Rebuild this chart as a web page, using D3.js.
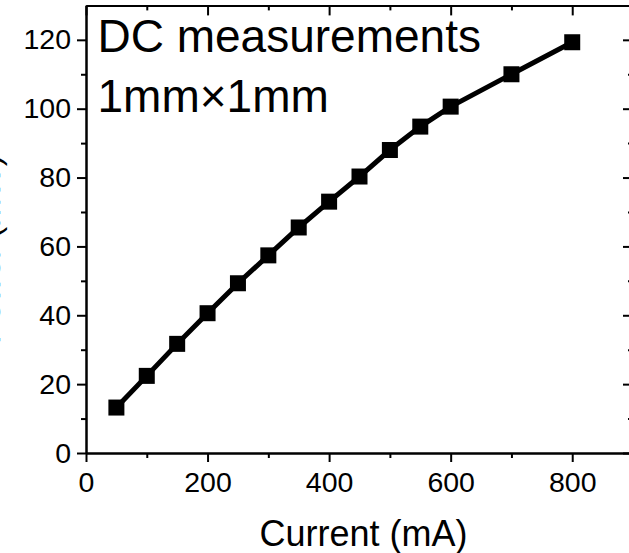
<!DOCTYPE html>
<html>
<head>
<meta charset="utf-8">
<script src="https://cdn.jsdelivr.net/npm/d3@7"></script>
<style>
  html, body { margin: 0; padding: 0; background: #fff; }
  svg { display: block; }
  text { font-family: "Liberation Sans", Arial, sans-serif; fill: #000; }
</style>
</head>
<body>
<svg id="chart" width="629" height="553"></svg>
<script>
// Data
const currentMA = [50, 100, 150, 200, 250, 300, 350, 400, 450, 500, 550, 600, 700, 800];
const powerMW   = [13.2, 22.4, 31.7, 40.6, 49.3, 57.4, 65.5, 73.0, 80.3, 88.0, 94.8, 100.6, 110.0, 119.3];
const xMajorTicks = [0, 200, 400, 600, 800];
const xMinorTicks = [100, 300, 500, 700];
const yMajorTicks = [0, 20, 40, 60, 80, 100, 120];
const yMinorTicks = [10, 30, 50, 70, 90, 110];
const xLabel = "Current (mA)";
const yLabel = "Power (mW)";
const noteLines = ["DC measurements", "1mm\u00d71mm"];

const FONT = '"Liberation Sans", Arial, sans-serif';
const svg = d3.select("#chart");
const mLeft = 86, mRight = 633, mTop = 5.4, mBottom = 453;

const x = d3.scaleLinear().domain([0, 900]).range([mLeft, mRight]);
const y = d3.scaleLinear().domain([0, 130]).range([mBottom, mTop]);

function styleAxis(g) {
  g.selectAll("path.domain").attr("stroke", "#000").attr("stroke-width", 2);
  g.selectAll(".tick line").attr("stroke", "#000").attr("stroke-width", 2);
  g.selectAll("text").attr("font-size", 28.5).attr("font-family", FONT).attr("fill", "#000");
}

// Bottom axis
svg.append("g").attr("transform", `translate(0,${mBottom})`)
  .call(d3.axisBottom(x).tickValues(xMajorTicks).tickSize(9).tickSizeOuter(0).tickPadding(10).tickFormat(d3.format("d")))
  .call(styleAxis);
svg.append("g").attr("transform", `translate(0,${mBottom})`)
  .call(d3.axisBottom(x).tickValues(xMinorTicks).tickSize(5).tickSizeOuter(0).tickFormat(""))
  .call(styleAxis);

// Top axis (inward ticks)
svg.append("g").attr("transform", `translate(0,${mTop})`)
  .call(d3.axisTop(x).tickValues(xMajorTicks).tickSize(-10).tickSizeOuter(0).tickFormat(""))
  .call(styleAxis);
svg.append("g").attr("transform", `translate(0,${mTop})`)
  .call(d3.axisTop(x).tickValues(xMinorTicks).tickSize(-5).tickSizeOuter(0).tickFormat(""))
  .call(styleAxis);

// Left axis
svg.append("g").attr("transform", `translate(${mLeft},0)`)
  .call(d3.axisLeft(y).tickValues(yMajorTicks).tickSize(9).tickSizeOuter(0).tickPadding(6).tickFormat(d3.format("d")))
  .call(styleAxis);
svg.append("g").attr("transform", `translate(${mLeft},0)`)
  .call(d3.axisLeft(y).tickValues(yMinorTicks).tickSize(5).tickSizeOuter(0).tickFormat(""))
  .call(styleAxis);

// Right axis (inward ticks)
svg.append("g").attr("transform", `translate(${mRight},0)`)
  .call(d3.axisRight(y).tickValues(yMajorTicks).tickSize(-10).tickSizeOuter(0).tickFormat(""))
  .call(styleAxis);
svg.append("g").attr("transform", `translate(${mRight},0)`)
  .call(d3.axisRight(y).tickValues(yMinorTicks).tickSize(-5).tickSizeOuter(0).tickFormat(""))
  .call(styleAxis);

// Line
const data = currentMA.map((c, i) => ({ c, p: powerMW[i] }));
svg.append("path")
  .datum(data)
  .attr("fill", "none")
  .attr("stroke", "#000")
  .attr("stroke-width", 5)
  .attr("d", d3.line().x(d => x(d.c)).y(d => y(d.p)));

// Square markers
const ms = 16;
svg.append("g").selectAll("rect").data(data).join("rect")
  .attr("x", d => x(d.c) - ms / 2)
  .attr("y", d => y(d.p) - ms / 2)
  .attr("width", ms).attr("height", ms)
  .attr("fill", "#000");

// Annotation
svg.append("g").selectAll("text").data(noteLines).join("text")
  .attr("x", 97.5)
  .attr("y", (d, i) => 52 + i * 60)
  .attr("font-size", 46)
  .attr("font-family", FONT)
  .text(d => d);

// Axis titles
svg.append("text")
  .attr("x", 363.5).attr("y", 546)
  .attr("text-anchor", "middle")
  .attr("font-size", 36)
  .attr("font-family", FONT)
  .text(xLabel);

svg.append("text")
  .attr("transform", "translate(0,155) rotate(-90)")
  .attr("text-anchor", "end")
  .attr("font-size", 34)
  .attr("font-family", FONT)
  .text(yLabel);
</script>
</body>
</html>
